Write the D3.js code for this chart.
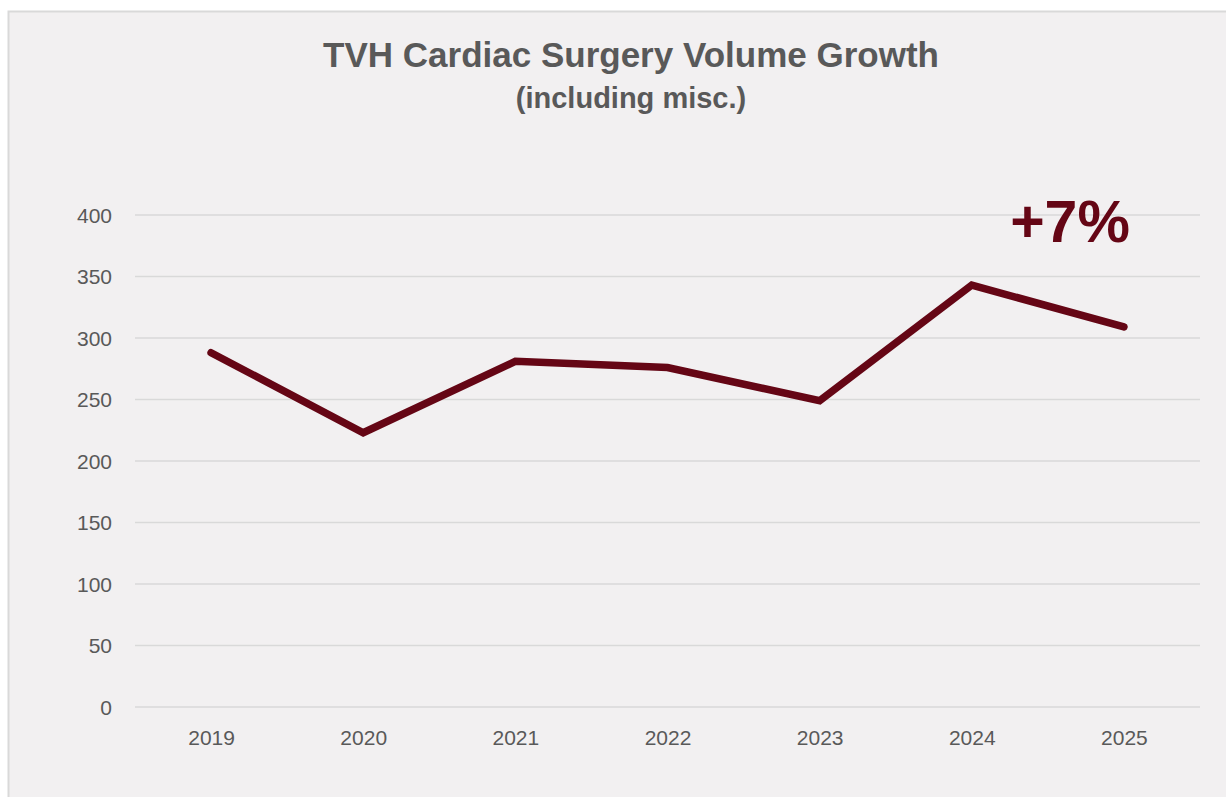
<!DOCTYPE html>
<html lang="en">

<head>
    <meta charset="UTF-8">
    <title>TVH Cardiac Surgery Volume Growth</title>
    <style>
        body { margin: 0; background: #ffffff; }
    </style>
</head>

<body>
    <script type="text/javascript" src="https://cdn.jsdelivr.net/npm/d3@7"></script>
    <script type="text/javascript">
    var years = ["2019", "2020", "2021", "2022", "2023", "2024", "2025"],
        volumes = [288, 223, 281, 276, 249, 343, 309],
        yTicks = [0, 50, 100, 150, 200, 250, 300, 350, 400],
        growthLabel = "+7%";

    var w = 1226,
        h = 797,
        plotLeft = 135,
        plotRight = 1200,
        plotTop = 215,
        plotBottom = 707,
        lineColor = "#650615",
        textColor = "#595959",
        font = "Liberation Sans, Arial, sans-serif";

    var svg = d3.select("body")
        .append("svg")
        .attr("width", w)
        .attr("height", h);

    // chart frame
    svg.append("rect")
        .attr("x", 8.5)
        .attr("y", 11.5)
        .attr("width", w + 10)
        .attr("height", h + 10)
        .attr("fill", "#f2f0f1")
        .attr("stroke", "#d9d9d9")
        .attr("stroke-width", 2);

    var x = d3.scalePoint()
        .domain(years)
        .range([plotLeft, plotRight])
        .padding(0.5);

    var y = d3.scaleLinear()
        .domain([0, 400])
        .range([plotBottom, plotTop]);

    // gridlines
    svg.append("g")
        .selectAll("line")
        .data(yTicks)
        .enter()
        .append("line")
        .attr("x1", plotLeft)
        .attr("x2", plotRight)
        .attr("y1", function(d) { return y(d); })
        .attr("y2", function(d) { return y(d); })
        .attr("stroke", "#d9d9d9")
        .attr("stroke-width", 1.5);

    // y axis labels
    var yAxis = d3.axisLeft(y).tickValues(yTicks).tickSize(0).tickPadding(0);
    var gy = svg.append("g")
        .attr("transform", "translate(112,0)")
        .call(yAxis);
    gy.select(".domain").remove();
    gy.selectAll("text")
        .attr("font-family", font)
        .attr("font-size", "21px")
        .attr("fill", textColor)
        .attr("dy", "0.35em");

    // x axis labels
    var xAxis = d3.axisBottom(x).tickSize(0).tickPadding(0);
    var gx = svg.append("g")
        .attr("transform", "translate(0,730)")
        .call(xAxis);
    gx.select(".domain").remove();
    gx.selectAll("text")
        .attr("font-family", font)
        .attr("font-size", "21px")
        .attr("fill", textColor)
        .attr("dy", "0.71em");

    // the line
    var line = d3.line()
        .x(function(d, i) { return x(years[i]); })
        .y(function(d) { return y(d); });

    svg.append("path")
        .datum(volumes)
        .attr("d", line)
        .attr("fill", "none")
        .attr("stroke", lineColor)
        .attr("stroke-width", 7.5)
        .attr("stroke-linecap", "round")
        .attr("stroke-linejoin", "miter");

    // titles
    svg.append("text")
        .text("TVH Cardiac Surgery Volume Growth")
        .attr("x", 631)
        .attr("y", 67)
        .attr("text-anchor", "middle")
        .attr("font-family", font)
        .attr("font-weight", "bold")
        .attr("font-size", "35px")
        .attr("fill", textColor);

    svg.append("text")
        .text("(including misc.)")
        .attr("x", 631)
        .attr("y", 108)
        .attr("text-anchor", "middle")
        .attr("font-family", font)
        .attr("font-weight", "bold")
        .attr("font-size", "29px")
        .attr("fill", textColor);

    // growth annotation
    svg.append("text")
        .text(growthLabel)
        .attr("x", 1070)
        .attr("y", 242)
        .attr("text-anchor", "middle")
        .attr("font-family", font)
        .attr("font-weight", "bold")
        .attr("font-size", "59px")
        .attr("fill", lineColor);
    </script>
</body>

</html>
